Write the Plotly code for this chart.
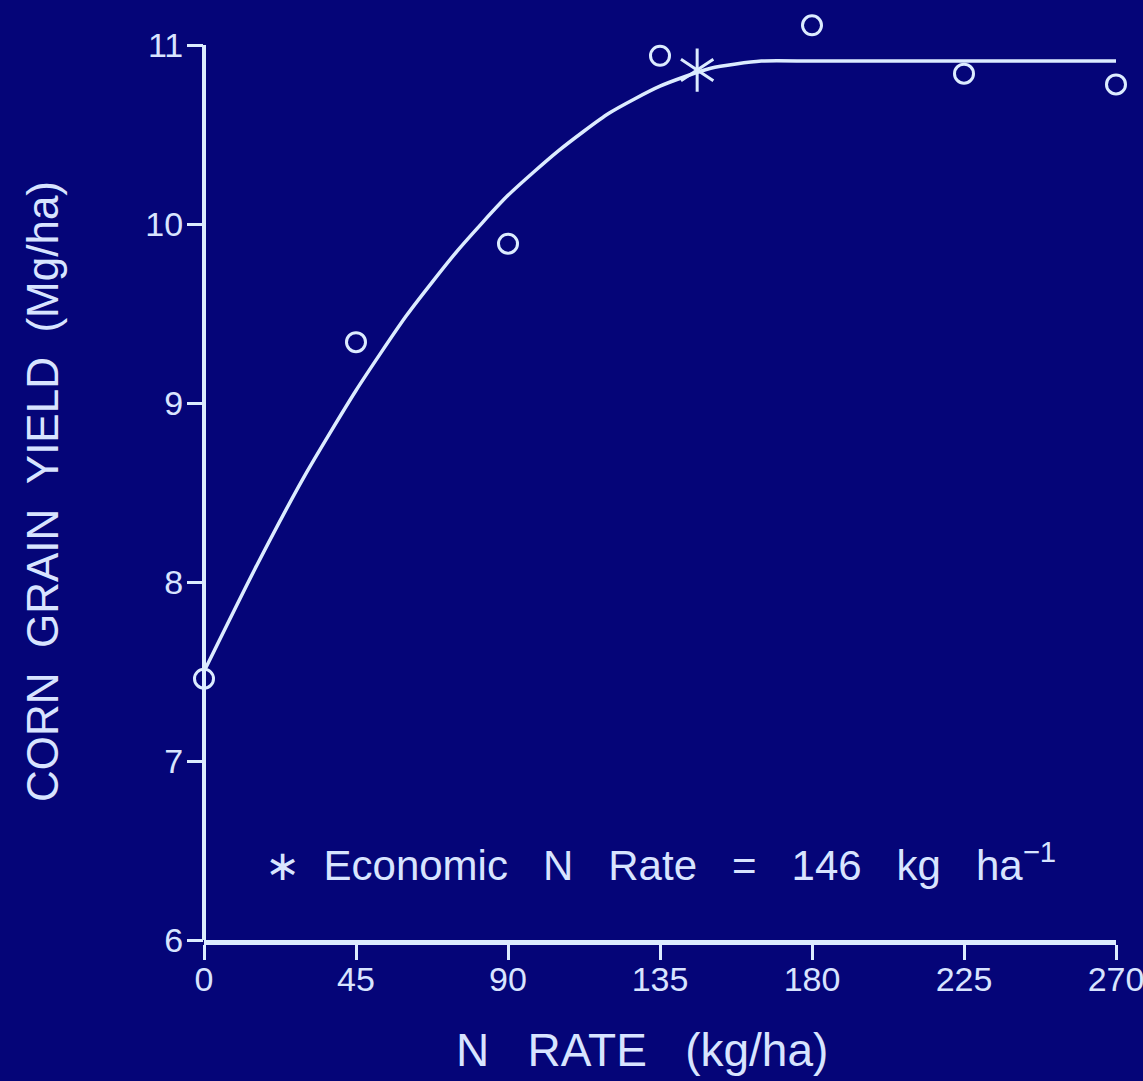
import plotly.graph_objects as go

# ---- data ----
n_rate = [0, 45, 90, 135, 180, 225, 270]                 # kg/ha
yield_obs = [7.46, 9.34, 9.89, 10.94, 11.11, 10.84, 10.78]  # Mg/ha

curve_x = [0, 15, 30, 45, 60, 75, 90, 105, 120, 135, 150, 165, 180, 225, 270]
curve_y = [7.50, 8.07, 8.60, 9.07, 9.49, 9.85, 10.16, 10.41, 10.62, 10.77,
           10.87, 10.91, 10.91, 10.91, 10.91]

econ_x = [146]
econ_y = [10.86]

x_ticks = [0, 45, 90, 135, 180, 225, 270]
y_ticks = [6, 7, 8, 9, 10, 11]

BG = "#050578"
LINE = "#dcecff"
TEXT = "#d8e4ff"
FONT = "Liberation Sans, Arial, DejaVu Sans, sans-serif"
NB = "\u00a0"

fig = go.Figure()

fig.add_trace(go.Scatter(
    x=curve_x, y=curve_y, mode="lines",
    line=dict(color=LINE, width=3.5, shape="spline", smoothing=0.6),
    hoverinfo="skip", showlegend=False))

fig.add_trace(go.Scatter(
    x=n_rate, y=yield_obs, mode="markers",
    marker=dict(symbol="circle-open", size=19, color=LINE,
                line=dict(color=LINE, width=3)),
    cliponaxis=False, showlegend=False))

for sym in ["y-up", "y-down"]:
    fig.add_trace(go.Scatter(
        x=econ_x, y=econ_y, mode="markers",
        marker=dict(symbol=sym, size=27, color=LINE,
                    line=dict(color=LINE, width=3)),
        cliponaxis=False, showlegend=False))

# plot area: x 0..270 -> px 204..1116 ; y 6 -> px 940, 11 -> px 45
L, R, T, B = 204, 1143 - 1116, 0, 1081 - 940
PH = 940 - T
y_top = 6 + PH / 179.0

def py(p):
    return (940 - p) / PH

def px(p):
    return (p - L) / 912.0

fig.update_layout(
    width=1143, height=1081,
    paper_bgcolor=BG, plot_bgcolor=BG,
    margin=dict(l=L, r=R, t=T, b=B, pad=0),
    font=dict(family=FONT, color=TEXT),
    xaxis=dict(range=[0, 270], tickvals=x_ticks, ticktext=[str(v) for v in x_ticks],
               showgrid=False, zeroline=False, showline=True,
               linecolor=LINE, linewidth=5, ticks="outside", ticklen=15,
               tickwidth=3, tickcolor=LINE, ticklabeloverflow="allow",
               ticklabelstandoff=-10,
               tickfont=dict(size=34, color=TEXT, family=FONT)),
    yaxis=dict(range=[6, y_top], tickvals=y_ticks, ticktext=[str(v) for v in y_ticks],
               showgrid=False, zeroline=False, showline=False,
               ticks="outside", ticklen=16,
               tickwidth=3, tickcolor=LINE, ticklabelstandoff=-3,
               tickfont=dict(size=34, color=TEXT, family=FONT)),
    shapes=[dict(type="line", xref="paper", yref="y", x0=0, x1=0, y0=6, y1=11,
                 line=dict(color=LINE, width=4), layer="above")],
    annotations=[
        dict(text="N" + NB * 3 + "RATE" + NB * 3 + "(kg/ha)",
             xref="paper", yref="paper", x=px(642), y=py(1050),
             xanchor="center", yanchor="middle", showarrow=False,
             font=dict(size=46, color=TEXT, family=FONT)),
        dict(text="CORN" + NB * 2 + "GRAIN" + NB * 2 + "YIELD" + NB * 2 + "(Mg/ha)",
             xref="paper", yref="paper", x=px(42), y=py(492),
             xanchor="center", yanchor="middle", textangle=-90, showarrow=False,
             font=dict(size=44, color=TEXT, family=FONT)),
        dict(text="\u2217" + NB * 2 + "Economic" + NB * 3 + "N" + NB * 3 + "Rate" + NB * 3 + "="
                  + NB * 3 + "146" + NB * 3 + "kg" + NB * 3 + "ha<sup>\u22121</sup>",
             xref="paper", yref="paper", x=px(660), y=py(862),
             xanchor="center", yanchor="middle", showarrow=False,
             font=dict(size=42, color=TEXT, family=FONT)),
    ],
)

fig.write_html("out.html")
